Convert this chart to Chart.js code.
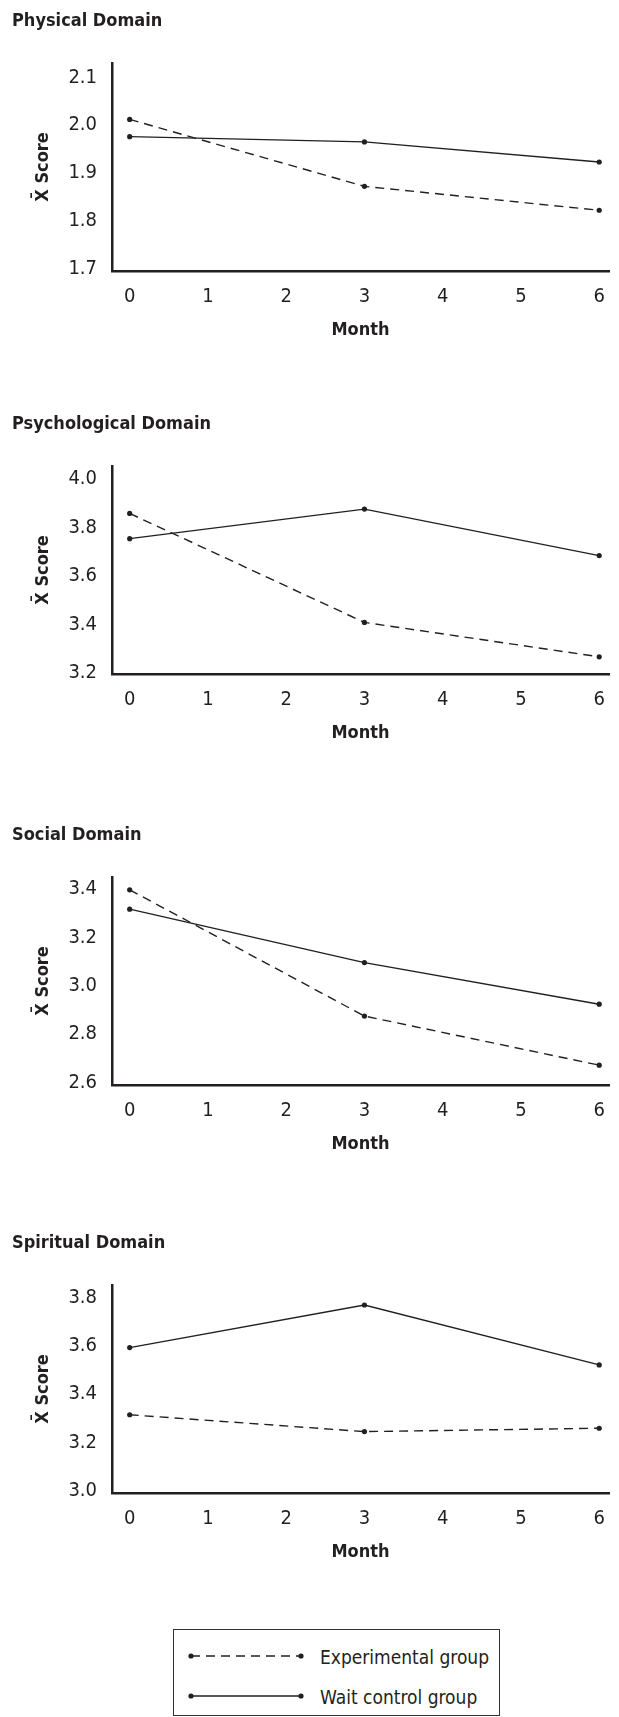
<!DOCTYPE html>
<html>
<head>
<meta charset="utf-8">
<script src="https://cdn.jsdelivr.net/npm/chart.js@4"></script>
<style>
  html, body { margin:0; padding:0; background:#fff; }
  body { width:619px; height:1717px; position:relative; overflow:hidden;
         font-family:'Liberation Sans Narrow','DejaVu Sans Condensed','Liberation Sans',sans-serif; color:#231f20; }
  canvas { position:absolute; left:0; }
  #legend { position:absolute; left:173px; top:1629px; width:327px; height:87px;
            border:1.5px solid #333; box-sizing:border-box; }
  .row { position:absolute; left:0; width:100%; height:30px; }
  .row svg { position:absolute; left:10px; top:0; }
  .row span { position:absolute; left:146px; top:2px; font-size:19px; line-height:26px; white-space:nowrap; }
</style>
</head>
<body>
<canvas id="c1" width="619" height="345" style="top:0px"></canvas>
<canvas id="c2" width="619" height="345" style="top:403px"></canvas>
<canvas id="c3" width="619" height="345" style="top:814px"></canvas>
<canvas id="c4" width="619" height="345" style="top:1222px"></canvas>

<div id="legend">
  <div class="row" style="top:12px">
    <svg width="125" height="30"><line x1="7" y1="14" x2="117" y2="14" stroke="#231f20" stroke-width="1.4" stroke-dasharray="9,6"/><circle cx="7" cy="14" r="2.6" fill="#231f20"/><circle cx="117" cy="14" r="2.6" fill="#231f20"/></svg>
    <span>Experimental group</span>
  </div>
  <div class="row" style="top:52px">
    <svg width="125" height="30"><line x1="7" y1="14" x2="117" y2="14" stroke="#231f20" stroke-width="1.4"/><circle cx="7" cy="14" r="2.6" fill="#231f20"/><circle cx="117" cy="14" r="2.6" fill="#231f20"/></svg>
    <span>Wait control group</span>
  </div>
</div>

<script>
// ---- data ----
const months = [0, 3, 6];
const monthTicks = [0, 1, 2, 3, 4, 5, 6];

const physicalExperimental = [2.012, 1.872, 1.822];
const physicalWaitControl  = [1.976, 1.965, 1.923];
const physicalTicks = [1.7, 1.8, 1.9, 2.0, 2.1];

const psychologicalExperimental = [3.858, 3.408, 3.266];
const psychologicalWaitControl  = [3.754, 3.876, 3.684];
const psychologicalTicks = [3.2, 3.4, 3.6, 3.8, 4.0];

const socialExperimental = [3.397, 2.875, 2.672];
const socialWaitControl  = [3.317, 3.096, 2.924];
const socialTicks = [2.6, 2.8, 3.0, 3.2, 3.4];

const spiritualExperimental = [3.315, 3.245, 3.259];
const spiritualWaitControl  = [3.594, 3.771, 3.522];
const spiritualTicks = [3.0, 3.2, 3.4, 3.6, 3.8];

const seriesNames = ['Experimental group', 'Wait control group'];

// ---- drawing ----
const FONT = "'Liberation Sans Narrow','DejaVu Sans Condensed','Liberation Sans',sans-serif";
const INK = '#231f20';

function toPoints(vals) { return months.map((m, i) => ({ x: m, y: vals[i] })); }

function makeChart(id, title, exp, wait, yTicks, yMin, yMax) {
  new Chart(document.getElementById(id), {
    type: 'line',
    data: {
      datasets: [
        { label: seriesNames[0], data: toPoints(exp), borderColor: INK, borderWidth: 1.4,
          borderDash: [9, 6], pointRadius: 2.6, pointBackgroundColor: INK, pointBorderWidth: 0, tension: 0 },
        { label: seriesNames[1], data: toPoints(wait), borderColor: INK, borderWidth: 1.4,
          pointRadius: 2.6, pointBackgroundColor: INK, pointBorderWidth: 0, tension: 0 }
      ]
    },
    options: {
      responsive: false, animation: false, devicePixelRatio: 1,
      layout: { padding: { left: 12, right: 2, top: 0, bottom: 0 } },
      plugins: {
        legend: { display: false }, tooltip: { enabled: false },
        title: { display: true, text: title, align: 'start', color: INK,
                 font: { family: FONT, size: 18, weight: 'bold' },
                 padding: { top: 10.2, bottom: 31.2 } }
      },
      scales: {
        x: {
          type: 'linear', min: -0.226, max: 6.126,
          afterBuildTicks: s => { s.ticks = monthTicks.map(v => ({ value: v })); },
          afterFit: s => { s.height = 74; },
          grid: { display: false, drawTicks: false },
          border: { display: true, color: INK, width: 2.5 },
          ticks: { padding: 14, color: INK, font: { family: FONT, size: 20 }, callback: v => String(v) },
          title: { display: true, text: 'Month', color: INK,
                   font: { family: FONT, size: 18, weight: 'bold' }, padding: { top: 0, bottom: 4.2 } }
        },
        y: {
          min: yMin, max: yMax,
          afterBuildTicks: s => { s.ticks = yTicks.map(v => ({ value: v })); },
          afterFit: s => { s.width = 100; },
          grid: { display: false, drawTicks: false },
          border: { display: true, color: INK, width: 2.5 },
          ticks: { padding: 15, color: INK, font: { family: FONT, size: 20 }, callback: v => Number(v).toFixed(1) },
          title: { display: true, text: 'X\u0304 Score', color: INK,
                   font: { family: FONT, size: 18, weight: 'bold' }, padding: { top: 20.2, bottom: 0 } }
        }
      }
    }
  });
}

makeChart('c1', 'Physical Domain', physicalExperimental, physicalWaitControl, physicalTicks, 1.695, 2.13);
makeChart('c2', 'Psychological Domain', psychologicalExperimental, psychologicalWaitControl, psychologicalTicks, 3.195, 4.054);
makeChart('c3', 'Social Domain', socialExperimental, socialWaitControl, socialTicks, 2.59, 3.45);
makeChart('c4', 'Spiritual Domain', spiritualExperimental, spiritualWaitControl, spiritualTicks, 2.99, 3.854);
</script>
</body>
</html>
